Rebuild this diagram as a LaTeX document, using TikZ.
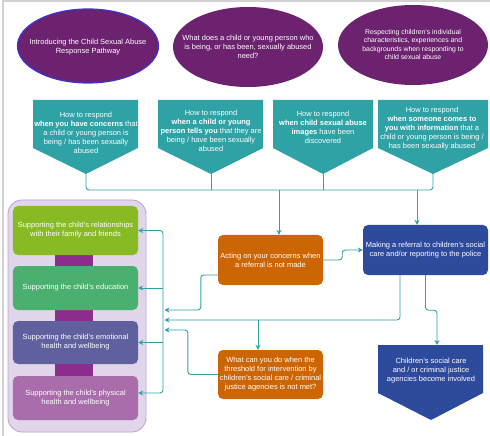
\documentclass[tikz,border=0pt]{standalone}
\usepackage{fontspec}
\setmainfont{Liberation Sans}
\usetikzlibrary{arrows.meta, shapes.geometric}

\definecolor{csapurple}{HTML}{6C226F}
\definecolor{csarim}{HTML}{3C34D0}
\definecolor{csateal}{HTML}{2FA2A6}
\definecolor{csaorange}{HTML}{CC6604}
\definecolor{csablue}{HTML}{2E4A9C}
\definecolor{csalilac}{HTML}{E1D5E9}
\definecolor{csalilacrim}{HTML}{B9A2CB}
\definecolor{csabar}{HTML}{8C2D8E}
\definecolor{csalime}{HTML}{88BA24}
\definecolor{csagreen}{HTML}{49B06F}
\definecolor{csaslate}{HTML}{5F609E}
\definecolor{csamauve}{HTML}{A96DAB}

\begin{document}
\begin{tikzpicture}[x=1bp, y=-1bp, >={Stealth[length=5pt, width=5pt]}]

%\path (0,0) grid (490,436);
\useasboundingbox (0,0) rectangle (490,436);
\draw[gray!35, line width=1.2bp] (3,436) -- (3,1) -- (490,1);

% styles
\pgfkeys{/txt/.style={text=white, align=center, inner sep=0, node font=\fontsize{7.5}{9}\selectfont}} % white centred text
\pgfkeys{/oval/.style={ellipse, fill=csapurple, inner sep=0, minimum width=150bp, minimum height=80bp}} % top ellipses
\pgfkeys{/act/.style={/txt, rectangle, rounded corners=5bp, minimum width=105bp, minimum height=50bp}} % action boxes
\pgfkeys{/care/.style={/txt, rectangle, rounded corners=5bp, minimum width=125bp}} % support boxes
\pgfkeys{/conn/.style={draw=csateal, line width=0.9bp, rounded corners=3bp, ->}} % connectors

% top row of ellipses
\node[/oval, minimum width=141bp, minimum height=74bp, draw=csarim, line width=1.2bp] (intro) at (88,46) {};
\node[/oval] (needs) at (248,47) {};
\node[/oval] (respect) at (413,45) {};
\node[/txt] (introtxt) at (88,47.5) {Introducing the Child Sexual Abuse\\ Response Pathway};
\node[/txt] (needstxt) at (248,47) {What does a child or young person who\\ is being, or has been, sexually abused\\ need?};
\node[/txt, node font=\fontsize{6.9}{8.5}\selectfont] (respecttxt) at (413,44.5) {Respecting children's individual\\ characteristics, experiences and\\ backgrounds when responding to\\ child sexual abuse};

% how to respond row
\foreach \j/\xl/\xr/\xt in {1/33/138/86, 2/158/263/211, 3/273/373/323, 4/378/488/433} {
\fill[csateal] (\xl,100) -- (\xr,100) -- (\xr,148) -- (\xt,174) -- (\xl,148) -- cycle;
\coordinate (tip\j) at (\xt,174);
}
\node[/txt] (resp1) at (86,133) {How to respond\\ \textbf{when you have concerns} that\\ a child or young person is\\ being / has been sexually\\ abused};
\node[/txt] (resp2) at (211,131) {How to respond\\ \textbf{when a child or young}\\ \textbf{person tells you} that they are\\ being / have been sexually\\ abused};
\node[/txt] (resp3) at (323,127) {How to respond\\ \textbf{when child sexual abuse}\\ \textbf{images} have been\\ discovered};
\node[/txt] (resp4) at (432,129) {How to respond\\ \textbf{when someone comes to}\\ \textbf{you with information} that a\\ child or young person is being /\\ has been sexually abused};

% middle column
\node[/act, fill=csaorange] (acting) at (270.5,260) {Acting on your concerns when\\ a referral is not made};
\node[/act, fill=csablue, minimum width=125bp] (referral) at (425.5,250) {Making a referral to children's social\\ care and/or reporting to the police};
\node[/act, fill=csaorange, minimum height=49bp] (threshold) at (270.5,374.5) {What can you do when the\\ threshold for intervention by\\ children's social care / criminal\\ justice agencies is not met?};
\fill[csablue] (378,345) -- (483,345) -- (483,393) -- (431,420) -- (378,393) -- cycle;
\node[/txt] (involved) at (431,371) {Children's social care\\ and / or criminal justice\\ agencies become involved};
\coordinate (invtop) at (437,345);

% support group
\fill[csalilac, draw=csalilacrim, line width=0.8bp, rounded corners=14bp] (8,200) rectangle (146,432);
\foreach \ya/\yb in {255/266, 310/321, 364/376} {
\fill[csabar] (55,\ya) rectangle (93,\yb);
}
\node[/care, fill=csalime, minimum height=49bp] (family) at (75.5,230.5) {Supporting the child's relationships\\ with their family and friends};
\node[/care, fill=csagreen, minimum height=44bp] (school) at (75.5,288) {Supporting the child's education};
\node[/care, fill=csaslate, minimum height=43bp] (emotion) at (75.5,342.5) {Supporting the child's emotional\\ health and wellbeing};
\node[/care, fill=csamauve, minimum height=44bp] (physical) at (75.5,398) {Supporting the child's physical\\ health and wellbeing};
\coordinate (spine) at (164.5,0);
\coordinate (bus) at (0,190);

% connectors
\draw[/conn, -] (tip1) -- ++(0,16) -| (tip4);
\draw[/conn, -] (tip2) -- (tip2 |- bus);
\draw[/conn, -] (tip3) -- (tip3 |- bus);
\draw[/conn] ([xshift=8.5bp]acting.north |- bus) -- ([xshift=8.5bp]acting.north);
\draw[/conn] ([xshift=-8.5bp]referral.north |- bus) -- ([xshift=-8.5bp]referral.north);
\draw[/conn] (acting.east) -- ++(19,0) |- (referral.west);
\draw[/conn] (referral.south) -- ++(0,35) -| (invtop);
\draw[/conn] ([xshift=-25.5bp]referral.south) |- (spine |- 0,320);
\draw[/conn] ([xshift=-12.5bp]threshold.north |- 0,320) -- ([xshift=-12.5bp]threshold.north);
\draw[/conn] ([yshift=-15bp]acting.west) -- ++(-17,0) |- (spine |- 0,310);
\draw[/conn] (threshold.west) -- ++(-30,0) |- (spine |- 0,330);
\draw[/conn, <->] (family.east) -| (163,300) |- ([yshift=5bp]physical.east);
\draw[/conn] (163,288) -- (school.east);
\draw[/conn] (163,342.5) -- (emotion.east);

\end{tikzpicture}
\end{document}
